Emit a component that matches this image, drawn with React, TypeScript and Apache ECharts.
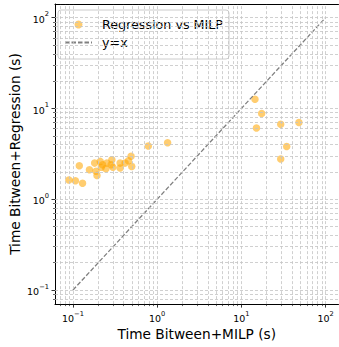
import { useEffect, useRef } from 'react';
import * as echarts from 'echarts';

// Scatter data (seconds)
const MILP_TIME = [
  14.5, 17.4, 15.1, 29.3, 48.2, 34.5, 29.3,
  0.785, 1.33,
  0.49, 0.456, 0.416, 0.363, 0.363, 0.499, 0.29, 0.284, 0.253, 0.246,
  0.225, 0.217, 0.211, 0.181, 0.157, 0.188, 0.193, 0.119, 0.0895, 0.107,
  0.13, 0.298,
];
const REGRESSION_TIME = [
  12.6, 8.8, 6.1, 6.7, 7.0, 3.8, 2.77,
  3.85, 4.19,
  2.97, 2.65, 2.5, 2.5, 2.21, 2.3, 2.72, 2.4, 2.5, 2.17,
  2.4, 2.25, 2.61, 2.5, 2.11, 2.03, 1.83, 2.34, 1.63, 1.6,
  1.5, 2.25,
];
const DIAGONAL_ENDS = [0.1, 100];
const MAJOR_EXPONENTS = [-1, 0, 1, 2];
const MINOR_MULTIPLIERS = [2, 3, 4, 5, 6, 7, 8, 9];
const X_LOG_RANGE = [-1.213, 2.153];
const Y_LOG_RANGE = [-1.155, 2.15];

const FONT = "'DejaVu Sans', sans-serif";

function gridValues(range: number[]) {
  const out: number[] = [];
  for (let e = -3; e <= 3; e++) {
    const base = Math.pow(10, e);
    const major = parseFloat(base.toPrecision(6));
    if (Math.log10(major) > range[0] + 0.003 && Math.log10(major) < range[1] - 0.003) out.push(major);
    for (const m of MINOR_MULTIPLIERS) {
      const v = parseFloat((m * base).toPrecision(6));
      const lv = Math.log10(v);
      if (lv > range[0] + 0.003 && lv < range[1] - 0.003) out.push(v);
    }
  }
  return out;
}

function minorLogs(range: number[]) {
  return gridValues(range)
    .map((v) => Math.log10(v))
    .filter((lv) => Math.abs(lv - Math.round(lv)) > 1e-6);
}

const supLabel = (v: number) => {
  const e = Math.round(v);
  return `{b|10}{s|${e < 0 ? '\u2212' + -e : e}}`;
};

const rich = {
  b: { fontSize: 9.5, lineHeight: 13.5, verticalAlign: 'bottom', color: '#000', fontFamily: FONT },
  s: { fontSize: 6.7, lineHeight: 6, verticalAlign: 'top', color: '#000', fontFamily: FONT },
};

export default function App() {
  const ref = useRef<HTMLDivElement>(null);
  useEffect(() => {
    document.body.style.margin = '0';
    const chart = echarts.init(ref.current!, null, { renderer: 'svg' });
    const xMin = Math.pow(10, X_LOG_RANGE[0]);
    const xMax = Math.pow(10, X_LOG_RANGE[1]);
    const yMin = Math.pow(10, Y_LOG_RANGE[0]);
    const yMax = Math.pow(10, Y_LOG_RANGE[1]);
    const black = { color: '#000', width: 1 };
    const hiddenBase = {
      type: 'value',
      axisLine: { show: false, onZero: false },
      splitLine: { show: false },
    };
    const gridLine = { type: [3, 2], color: '#c4c4c4', width: 0.8 };

    chart.setOption({
      animation: false,
      grid: { left: 53, top: 4, width: 285.5, height: 300.1 },
      legend: {
        data: [
          { name: 'Regression vs MILP' },
          { name: 'y=x', itemStyle: { opacity: 0 } },
        ],
        orient: 'vertical',
        left: 58,
        top: 10,
        padding: [8, 6, 10, 6],
        itemGap: 5,
        itemWidth: 27,
        itemHeight: 8,
        backgroundColor: 'rgba(255,255,255,0.8)',
        borderColor: '#cccccc',
        borderWidth: 1,
        borderRadius: 3,
        formatter: (name: string) => `{t|${name}}`,
        textStyle: {
          rich: { t: { fontSize: 12.7, fontFamily: FONT, color: '#000', padding: [0, 0, 0, 5] } },
        },
      },
      xAxis: [
        {
          type: 'log', logBase: 10, min: xMin, max: xMax, position: 'bottom',
          name: 'Time Bitween+MILP (s)', nameLocation: 'middle', nameGap: 22.5,
          nameTextStyle: { fontSize: 13.7, color: '#000', fontFamily: FONT },
          axisLine: { show: true, onZero: false, lineStyle: black },
          axisTick: { show: false }, axisLabel: { show: false }, splitLine: { show: false },
        },
        {
          ...hiddenBase, position: 'bottom', min: X_LOG_RANGE[0], max: X_LOG_RANGE[1],
          axisTick: { show: true, length: 3.5, customValues: MAJOR_EXPONENTS, lineStyle: { color: '#000', width: 0.8 } },
          axisLabel: { show: true, customValues: MAJOR_EXPONENTS, margin: 6, formatter: supLabel, rich },
        },
        {
          ...hiddenBase, position: 'bottom', min: X_LOG_RANGE[0], max: X_LOG_RANGE[1],
          axisTick: { show: true, length: 2, customValues: minorLogs(X_LOG_RANGE), lineStyle: { color: '#000', width: 0.6 } },
          axisLabel: { show: false },
        },
        {
          ...hiddenBase, position: 'top', min: X_LOG_RANGE[0], max: X_LOG_RANGE[1],
          axisLine: { show: true, onZero: false, lineStyle: black },
          axisTick: { show: false }, axisLabel: { show: false },
        },
      ],
      yAxis: [
        {
          type: 'log', logBase: 10, min: yMin, max: yMax, position: 'left',
          name: 'Time Bitween+Regression (s)', nameLocation: 'middle', nameGap: 33,
          nameTextStyle: { fontSize: 13.7, color: '#000', fontFamily: FONT },
          axisLine: { show: true, onZero: false, lineStyle: black },
          axisTick: { show: false }, axisLabel: { show: false }, splitLine: { show: false },
        },
        {
          ...hiddenBase, position: 'left', min: Y_LOG_RANGE[0], max: Y_LOG_RANGE[1],
          axisTick: { show: true, length: 3.5, customValues: MAJOR_EXPONENTS, lineStyle: { color: '#000', width: 0.8 } },
          axisLabel: { show: true, customValues: MAJOR_EXPONENTS, margin: 6, formatter: supLabel, rich },
        },
        {
          ...hiddenBase, position: 'left', min: Y_LOG_RANGE[0], max: Y_LOG_RANGE[1],
          axisTick: { show: true, length: 2, customValues: minorLogs(Y_LOG_RANGE), lineStyle: { color: '#000', width: 0.6 } },
          axisLabel: { show: false },
        },
      ],
      series: [
        {
          name: 'Regression vs MILP',
          type: 'scatter',
          data: MILP_TIME.map((x, i) => [x, REGRESSION_TIME[i]]),
          symbolSize: 7.5,
          itemStyle: { color: 'rgba(255,165,0,0.7)' },
          z: 1,
        },
        {
          name: '__grid',
          type: 'line',
          data: [],
          silent: true,
          z: 2,
          markLine: {
            silent: true,
            symbol: ['none', 'none'],
            label: { show: false },
            lineStyle: gridLine,
            emphasis: { disabled: true },
            data: [
              ...gridValues(X_LOG_RANGE).map((v) => ({ xAxis: v })),
              ...gridValues(Y_LOG_RANGE).map((v) => ({ yAxis: v })),
            ],
          },
        },
        {
          name: 'y=x',
          type: 'line',
          data: DIAGONAL_ENDS.map((v) => [v, v]),
          symbol: 'none',
          lineStyle: { color: '#808080', width: 1.3, type: [4.5, 2] },
          itemStyle: { color: '#808080' },
          z: 3,
        },
      ],
    });
    return () => chart.dispose();
  }, []);
  return (
    <div
      ref={ref}
      style={{ position: 'absolute', left: 0, top: 0, width: 339, height: 347 }}
    />
  );
}
